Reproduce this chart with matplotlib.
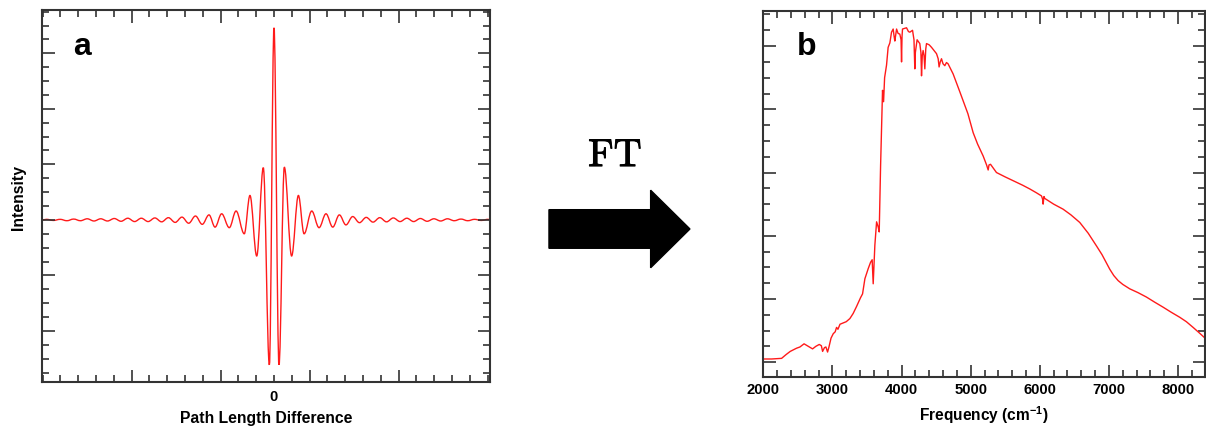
import matplotlib
matplotlib.use("Agg")
import matplotlib.pyplot as plt
import matplotlib.patheffects as pe
from matplotlib.patches import FancyArrow, PathPatch
from matplotlib.path import Path
from matplotlib.ticker import MultipleLocator

plt.rcParams['font.family'] = ['Liberation Sans', 'DejaVu Sans']
plt.rcParams['font.weight'] = 'bold'
plt.rcParams['mathtext.fontset'] = 'custom'
plt.rcParams['mathtext.rm'] = 'Liberation Sans:bold'
plt.rcParams['mathtext.default'] = 'rm'

# interferogram: extrema (x in minor-tick units, 0 = zero path difference)
path_diff = [-13.0, -12.77, -12.39, -12.01, -11.63, -11.25, -10.87, -10.49, -10.11, -9.73,
             -9.35, -8.97, -8.59, -8.21, -7.83, -7.45, -7.07, -6.69, -6.31, -5.93,
             -5.55, -5.17, -4.79, -4.41, -4.03, -3.65, -3.31, -2.94, -2.51, -2.13,
             -1.67, -1.35, -0.97, -0.60, -0.26, 0.0, 0.28, 0.58, 0.99, 1.37,
             1.69, 2.12, 2.53, 2.92, 3.30, 3.67, 4.04, 4.42, 4.80, 5.18,
             5.56, 5.94, 6.32, 6.70, 7.08, 7.46, 7.84, 8.22, 8.60, 8.98,
             9.36, 9.74, 10.12, 10.50, 10.88, 11.26, 11.64, 12.02, 12.13]
intensity = [0.0, 0.01, -0.01, 0.01, -0.015, 0.015, -0.015, 0.02, -0.02, 0.02,
             -0.02, 0.025, -0.025, 0.03, -0.03, 0.03, -0.03, 0.035, -0.035, 0.04,
             -0.045, 0.05, -0.06, 0.07, -0.08, 0.09, -0.13, 0.11, -0.14, 0.16,
             -0.25, 0.44, -0.65, 0.94, -2.61, 3.46, -2.61, 0.95, -0.65, 0.44,
             -0.25, 0.16, -0.14, 0.11, -0.13, 0.09, -0.09, 0.06, -0.05, 0.045,
             -0.04, 0.04, -0.035, 0.035, -0.03, 0.03, -0.03, 0.025, -0.025, 0.02,
             -0.02, 0.02, -0.015, 0.015, -0.015, 0.01, -0.01, 0.01, 0.0]

# spectrum
freq = [2000, 2120, 2265, 2330, 2390, 2480, 2530, 2590, 2650, 2713,
        2760, 2810, 2840, 2858, 2885, 2906, 2930, 2950, 2980, 3012,
        3040, 3060, 3080, 3110, 3157, 3200, 3253, 3300, 3349, 3407,
        3436, 3470, 3518, 3552, 3575, 3590, 3614, 3639, 3662, 3677,
        3697, 3725, 3740, 3755, 3783, 3806, 3831, 3855, 3879, 3893,
        3903, 3928, 3950, 3975, 3993, 4000, 4007, 4014, 4072, 4100,
        4120, 4159, 4180, 4192, 4200, 4225, 4264, 4280, 4289, 4300,
        4312, 4325, 4337, 4350, 4361, 4400, 4434, 4506, 4530, 4543,
        4560, 4578, 4600, 4626, 4650, 4673, 4746, 4842, 4960, 5036,
        5100, 5181, 5230, 5253, 5265, 5287, 5373, 5500, 5614, 5750,
        5855, 5950, 6024, 6040, 6048, 6060, 6072, 6200, 6337, 6450,
        6578, 6700, 6819, 6900, 7012, 7070, 7133, 7200, 7301, 7420,
        7542, 7660, 7783, 7900, 8024, 8120, 8217, 8310, 8400]
power = [0.05, 0.05, 0.06, 0.12, 0.17, 0.22, 0.24, 0.29, 0.25, 0.21,
         0.25, 0.28, 0.26, 0.17, 0.23, 0.24, 0.16, 0.24, 0.38, 0.45,
         0.48, 0.55, 0.52, 0.60, 0.62, 0.64, 0.69, 0.77, 0.88, 1.02,
         1.08, 1.32, 1.48, 1.58, 1.62, 1.24, 1.85, 2.22, 2.14, 2.06,
         3.11, 4.30, 4.12, 4.50, 4.70, 4.98, 5.05, 5.22, 5.27, 5.15,
         5.08, 5.27, 5.20, 5.19, 5.10, 4.75, 5.15, 5.27, 5.29, 5.23,
         5.22, 5.25, 5.10, 4.64, 4.90, 5.10, 5.04, 4.90, 4.53, 4.85,
         4.93, 4.85, 4.64, 4.95, 5.04, 5.02, 4.98, 4.88, 4.80, 4.67,
         4.75, 4.80, 4.72, 4.69, 4.74, 4.72, 4.56, 4.28, 3.93, 3.63,
         3.45, 3.26, 3.12, 3.04, 3.12, 3.13, 3.00, 2.93, 2.87, 2.80,
         2.74, 2.68, 2.63, 2.58, 2.50, 2.62, 2.59, 2.50, 2.42, 2.33,
         2.21, 2.04, 1.84, 1.70, 1.47, 1.37, 1.29, 1.23, 1.16, 1.10,
         1.03, 0.95, 0.87, 0.79, 0.71, 0.64, 0.55, 0.46, 0.37]

red = '#ff1a1a'
spine_col = '#333333'

fig = plt.figure(figsize=(12.06, 4.27), dpi=100)
ax1 = fig.add_axes([0.0348, 0.1030, 0.3715, 0.8712])
ax2 = fig.add_axes([0.6329, 0.1140, 0.3663, 0.8586])

for ax in (ax1, ax2):
    for s in ax.spines.values():
        s.set_linewidth(1.5)
        s.set_color(spine_col)
    ax.tick_params(which='both', direction='in', top=True, right=True,
                   color=spine_col, width=1.2, labelsize=10.7)
    ax.tick_params(which='major', length=9)
    ax.tick_params(which='minor', length=5)

# panel a: smooth curve through the extrema (flat tangent at each one)
verts = [(path_diff[0], intensity[0])]
codes = [Path.MOVETO]
for i in range(1, len(path_diff)):
    x0, y0 = path_diff[i - 1], intensity[i - 1]
    x1, y1 = path_diff[i], intensity[i]
    dx = x1 - x0
    verts += [(x0 + 0.364 * dx, y0), (x1 - 0.364 * dx, y1), (x1, y1)]
    codes += [Path.CURVE4] * 3
ax1.add_patch(PathPatch(Path(verts, codes), facecolor='none',
                        edgecolor=red, lw=1.0))
ax1.set_xlim(-13.03, 12.13)
ax1.set_ylim(-2.92, 3.78)
ax1.set_xticks([-8, -3, 2, 7])
ax1.set_xticklabels([])
minor_x = list(range(-13, 13))
ax1.set_xticks(minor_x, minor=True)
ax1.set_xticklabels(['0' if v == 0 else '' for v in minor_x], minor=True)
ax1.tick_params(axis='x', which='minor', pad=5)
ax1.set_yticks([-2, -1, 0, 1, 2, 3])
ax1.set_yticklabels([])
ax1.yaxis.set_minor_locator(MultipleLocator(0.25))
ax1.set_xlabel('Path Length Difference', fontsize=11.3, fontweight='bold', labelpad=5)
ax1.set_ylabel('Intensity', fontsize=11.3, fontweight='bold', labelpad=8)
ax1.text(0.069, 0.882, 'a', transform=ax1.transAxes, fontsize=23, fontweight='bold')

# panel b
ax2.plot(freq, power, color=red, lw=1.0)
ax2.set_xlim(2000, 8390)
ax2.set_ylim(-0.24, 5.56)
ax2.xaxis.set_major_locator(MultipleLocator(1000))
ax2.xaxis.set_minor_locator(MultipleLocator(200))
ax2.set_yticks([0, 1, 2, 3, 4, 5])
ax2.set_yticklabels([])
ax2.yaxis.set_minor_locator(MultipleLocator(0.25))
ax2.set_xlabel('Frequency (cm$^{-1}$)', fontsize=11.2, fontweight='bold', labelpad=5)
ax2.text(0.076, 0.882, 'b', transform=ax2.transAxes, fontsize=23, fontweight='bold')

# FT arrow between the panels
fig.patches.append(FancyArrow(0.4552, 0.4614, 0.1169, 0.0, width=0.0904,
                              head_width=0.1817, head_length=0.0326,
                              length_includes_head=True, color='black',
                              transform=fig.transFigure, figure=fig))
fig.text(0.51, 0.632, 'FT', fontfamily='cmr10', fontsize=28,
         ha='center', va='center',
         path_effects=[pe.withStroke(linewidth=0.7, foreground='black')])

fig.savefig('out.png', dpi=100)
